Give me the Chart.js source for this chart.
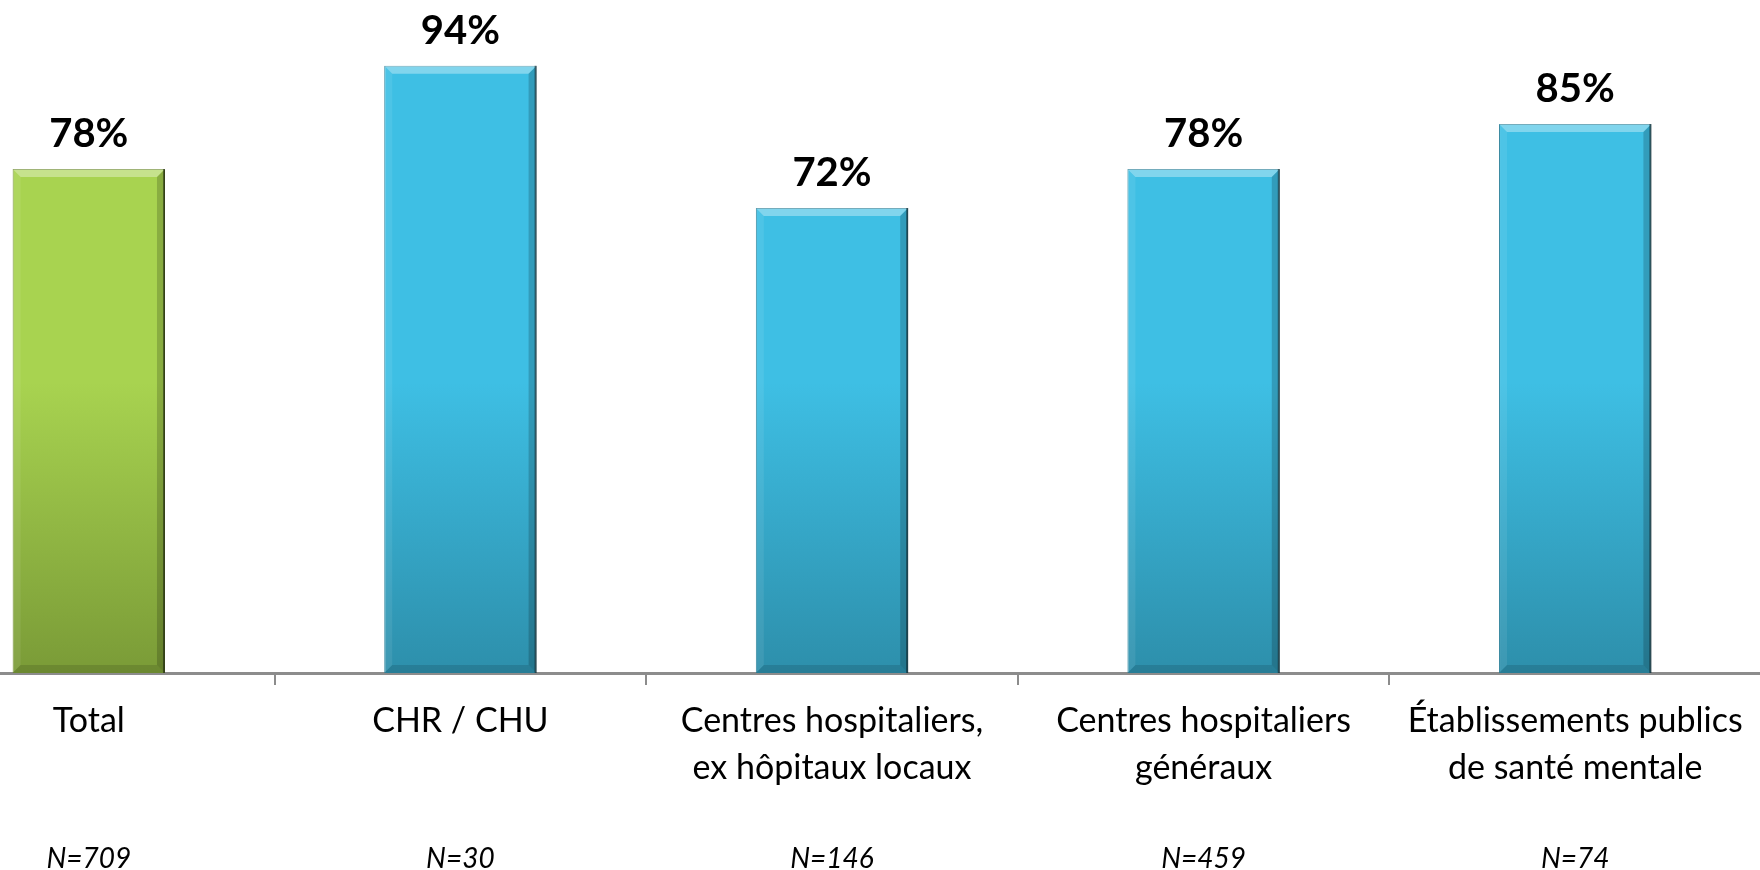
<!DOCTYPE html>
<html>
<head>
<meta charset="utf-8">
<script src="https://cdn.jsdelivr.net/npm/chart.js@4/dist/chart.umd.min.js"></script>
<style>
  html, body { margin: 0; padding: 0; background: #fff; overflow: hidden; }
  body { width: 1760px; height: 870px; position: relative; }
  /* the original picture is a crop of a wider chart, so the plot runs past both edges */
  .chart { position: absolute; left: -97px; top: 0; width: 1858px; height: 870px; }
</style>
</head>
<body>
<div class="chart"><canvas id="myChart"></canvas></div>
<script>
const categories = [
    ['Total'],
    ['CHR / CHU'],
    ['Centres hospitaliers,', 'ex hôpitaux locaux'],
    ['Centres hospitaliers', 'généraux'],
    ['Établissements publics', 'de santé mentale'],
];
const values = [78, 94, 72, 78, 85];
const sampleSizes = ['N=709', 'N=30', 'N=146', 'N=459', 'N=74'];

const GREEN = ['#a8d350', '#7a9b37'];
const BLUE = ['#3ebfe4', '#2d8fab'];

function barGradient(ctx) {
    const chart = ctx.chart;
    const area = chart.chartArea;
    if (!area) return null;
    const c = ctx.dataIndex === 0 ? GREEN : BLUE;
    const g = chart.ctx.createLinearGradient(0, area.top, 0, area.bottom);
    g.addColorStop(0, c[0]);
    g.addColorStop(0.55, c[0]);
    g.addColorStop(1, c[1]);
    return g;
}

// bevel look of the office-style bars
const bevelPlugin = {
    id: 'bevel',
    afterDatasetsDraw(chart) {
        const ctx = chart.ctx;
        const b = 8;
        chart.getDatasetMeta(0).data.forEach((bar) => {
            const l = bar.x - bar.width / 2;
            const r = bar.x + bar.width / 2;
            const t = bar.y;
            const btm = bar.base;
            ctx.save();
            ctx.fillStyle = 'rgba(255,255,255,0.35)';
            ctx.beginPath();
            ctx.moveTo(l, t); ctx.lineTo(r, t); ctx.lineTo(r - b, t + b); ctx.lineTo(l + b, t + b);
            ctx.closePath(); ctx.fill();
            ctx.fillStyle = 'rgba(255,255,255,0.08)';
            ctx.beginPath();
            ctx.moveTo(l, t); ctx.lineTo(l + b, t + b); ctx.lineTo(l + b, btm - b); ctx.lineTo(l, btm);
            ctx.closePath(); ctx.fill();
            ctx.fillStyle = 'rgba(0,0,0,0.18)';
            ctx.beginPath();
            ctx.moveTo(r, t); ctx.lineTo(r, btm); ctx.lineTo(r - b, btm - b); ctx.lineTo(r - b, t + b);
            ctx.closePath(); ctx.fill();
            ctx.fillStyle = 'rgba(0,0,0,0.12)';
            ctx.beginPath();
            ctx.moveTo(l, btm); ctx.lineTo(r, btm); ctx.lineTo(r - b, btm - b); ctx.lineTo(l + b, btm - b);
            ctx.closePath(); ctx.fill();
            ctx.strokeStyle = 'rgba(0,0,0,0.45)';
            ctx.lineWidth = 2;
            ctx.beginPath();
            ctx.moveTo(r - 1, t); ctx.lineTo(r - 1, btm);
            ctx.stroke();
            ctx.restore();
        });
    },
};

const valueLabels = {
    id: 'valueLabels',
    afterDatasetsDraw(chart) {
        const ctx = chart.ctx;
        ctx.save();
        ctx.font = 'bold 40px Lato';
        ctx.fillStyle = '#000';
        ctx.textAlign = 'center';
        ctx.textBaseline = 'middle';
        chart.getDatasetMeta(0).data.forEach((bar, i) => {
            ctx.fillText(values[i] + '%', bar.x, bar.y - 35);
        });
        ctx.restore();
    },
};

const chart = new Chart(document.getElementById('myChart').getContext('2d'), {
    type: 'bar',
    data: {
        labels: categories,
        datasets: [{
            data: values,
            backgroundColor: barGradient,
            borderColor: (ctx) => (ctx.dataIndex === 0 ? '#6e8c30' : '#2a8099'),
            borderWidth: 1,
            categoryPercentage: 1,
            barPercentage: 0.41,
        }],
    },
    options: {
        responsive: true,
        maintainAspectRatio: false,
        animation: false,
        layout: { padding: { top: 27, left: 0, right: 0, bottom: 0 } },
        plugins: {
            legend: { display: false },
            tooltip: { enabled: false },
        },
        scales: {
            y: { display: false, min: 0, max: 100 },
            x: {
                position: 'bottom',
                weight: 0,
                offset: true,
                grid: { offset: true, drawOnChartArea: false, drawTicks: true, tickLength: 12, color: '#8c8c8c', lineWidth: 2 },
                border: { display: true, color: '#8c8c8c', width: 3 },
                ticks: {
                    color: '#000',
                    padding: 13,
                    maxRotation: 0,
                    autoSkip: false,
                    font: { family: 'Lato', size: 34, lineHeight: 1.38 },
                },
                afterFit(scale) { scale.height = 140; },
            },
            x2: {
                type: 'category',
                position: 'bottom',
                weight: 1,
                offset: true,
                labels: sampleSizes,
                grid: { display: false, drawTicks: false },
                border: { display: false },
                ticks: {
                    color: '#000',
                    padding: 29,
                    maxRotation: 0,
                    autoSkip: false,
                    font: { family: 'Lato', style: 'italic', size: 28, lineHeight: 1.2 },
                },
                afterFit(scale) { scale.height = 57; },
            },
        },
    },
    plugins: [bevelPlugin, valueLabels],
});
</script>
</body>
</html>
